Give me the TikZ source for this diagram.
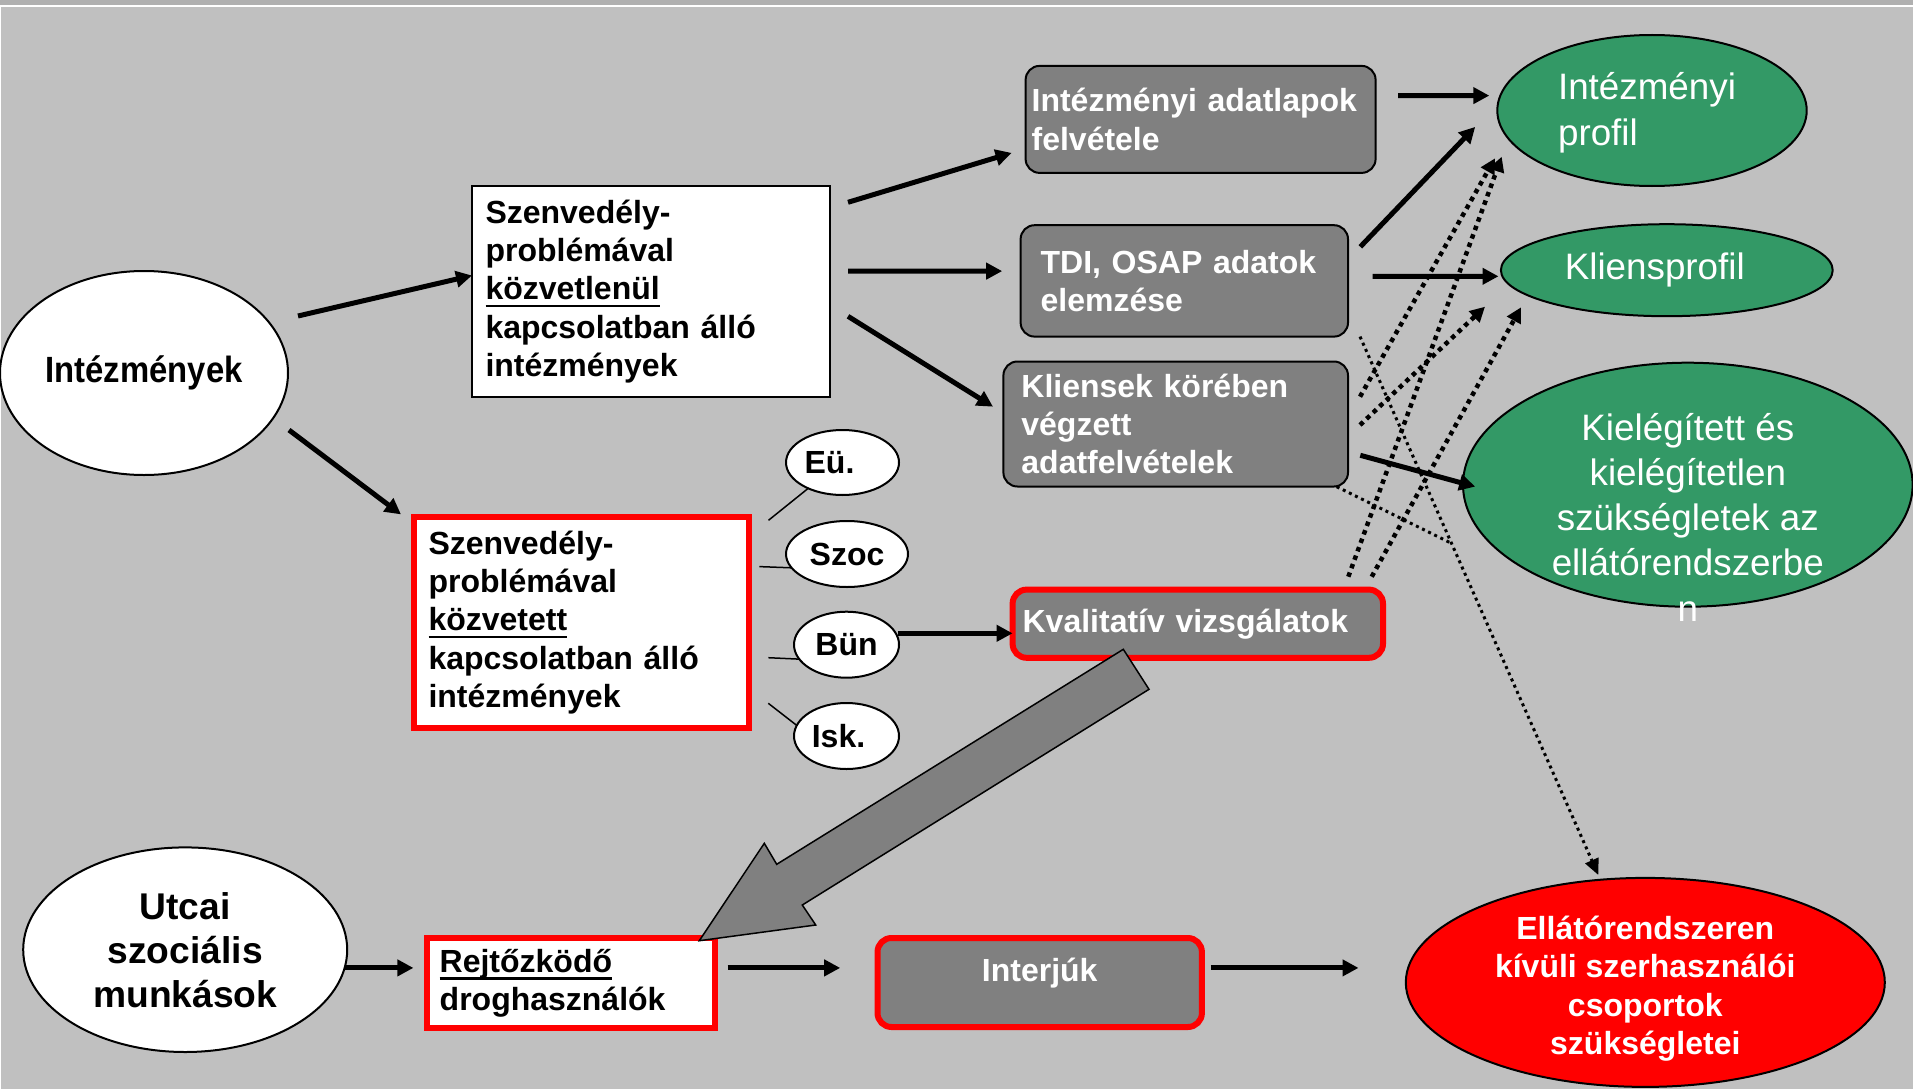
\documentclass[tikz,border=0pt]{standalone}
\usepackage{fontspec}
\setmainfont{Liberation Sans}
\newfontfamily\narrowfont{Liberation Sans}[FakeStretch=0.9]
\usetikzlibrary{arrows.meta,shapes.geometric,calc}
\definecolor{bgc}{HTML}{C0C0C0}
\definecolor{bandc}{HTML}{B0B0B0}
\definecolor{boxgray}{HTML}{808080}
\definecolor{ggreen}{HTML}{339966}
\definecolor{rred}{HTML}{FF0000}
\newcommand\myul[1]{\leavevmode\setbox0\hbox{#1}\rlap{\rule[-7.5pt]{\wd0}{2.5pt}}\box0}
\newcommand\bodyfont{\fontsize{32}{38.3}\selectfont\bfseries}
\tikzset{
  base/.style={outer sep=0pt, inner sep=0pt},
  wbox/.style={base, draw=black, line width=2pt, fill=white, align=left, font=\bodyfont},
  rbox/.style={base, draw=rred, line width=6pt, fill=white, align=left, font=\bodyfont},
  gbox/.style={base, draw=black, line width=2pt, fill=boxgray, rounded corners=14pt, text=white, align=left, font=\bodyfont},
  grbox/.style={gbox, draw=rred, line width=6pt},
  wellipse/.style={base, ellipse, draw=black, line width=2pt, fill=white, align=center},
  smallell/.style={wellipse, font=\bodyfont},
  gell/.style={base, ellipse, draw=black, line width=2pt, fill=ggreen, text=white, font=\fontsize{36.8}{45.3}\selectfont},
  arr/.style={line width=5pt, -{Triangle[length=16pt,width=16pt]}},
  dotarr/.style={line width=4.5pt, dash pattern=on 4.5pt off 4.5pt, -{Triangle[length=15pt,width=15pt]}},
  thindot/.style={line width=3pt, dash pattern=on 3pt off 3.8pt},
  thindotarr/.style={thindot, -{Triangle[length=16pt,width=14pt]}},
  tline/.style={line width=1.5pt}
}
\begin{document}
\begin{tikzpicture}[x=1pt, y=-1pt]
\useasboundingbox (0,0) rectangle (1913,1089);
\fill[bgc] (0,0) rectangle (1913,1089);
\fill[bandc] (0,0) rectangle (1913,4.7);
\fill[white] (0,5.2) rectangle (1913,6.8);
\fill[white] (0.2,6) rectangle (1.4,1089);

% left column
\node[wellipse, minimum width=288pt, minimum height=204pt, font={\fontsize{36.5}{40}\narrowfont\bfseries}] (inst) at (144,373) {Intézmények};
\node[wbox, text width=331pt, inner xsep=13.5pt, minimum height=211pt] (box1) at (651,291.5)
  {Szenvedély-\\problémával\\\myul{közvetlenül}\\kapcsolatban álló\\intézmények};
\node[rbox, text width=306pt, inner xsep=14.5pt, minimum height=211pt] (box2) at (581.5,622.5)
  {Szenvedély-\\problémával\\\myul{közvetett}\\kapcsolatban álló\\intézmények};

\node[smallell, minimum width=113pt, minimum height=65pt] (eu) at (842.5,462.5) {Eü.\hspace*{26pt}};
\node[smallell, minimum width=122pt, minimum height=66pt] (szoc) at (847,554) {Szoc};
\node[smallell, minimum width=105pt, minimum height=66pt] (bun) at (846.5,644.7) {Bün};
\node[smallell, minimum width=105pt, minimum height=66pt] (isk) at (846.5,736) {Isk.\hspace*{16pt}};

\node[wellipse, minimum width=324pt, minimum height=204.6pt, font={\fontsize{37.2}{44}\selectfont\bfseries}] (utc) at (185.2,949.7)
  {Utcai\\szociális\\munkások};
\node[rbox, text width=262pt, inner xsep=13pt, minimum height=90pt] (rejt) at (570.7,983)
  {\myul{Rejtőzködő}\\droghasználók};

% grey boxes
\node[gbox, text width=338pt, inner xsep=6pt, minimum height=107pt] (adat) at (1200.6,119.4)
  {Intézményi adatlapok\\felvétele};
\node[gbox, text width=287.4pt, inner xsep=20pt, minimum height=111.4pt] (tdi) at (1184.3,280.9)
  {TDI, OSAP adatok\\elemzése};
\node[gbox, text width=308.6pt, inner xsep=18pt, minimum height=125pt] (kli) at (1175.7,424)
  {Kliensek körében\\végzett\\adatfelvételek};
\node[grbox, text width=350.4pt, inner xsep=10pt, minimum height=68.2pt] (kval) at (1197.8,623.7)
  {Kvalitatív vizsgálatok};
\node[grbox, align=center, minimum width=324.4pt, minimum height=89pt, text height=23pt, text depth=26pt] (interj) at (1039.7,982.5)
  {Interjúk};

% right column
\node[gell, minimum width=309.4pt, minimum height=151pt] (ip) at (1652,110.5)
  {\raisebox{10.5pt}[0pt][0pt]{\begin{tabular}[t]{@{}l@{}}Intézményi\\profil\end{tabular}}\hspace*{10pt}};
\node[gell, minimum width=331.8pt, minimum height=92pt] (kp) at (1666.8,270.2)
  {Kliensprofil\hspace*{24pt}};
\node[gell, minimum width=449.6pt, minimum height=244pt] (kie) at (1687.8,484.7)
  {\raisebox{44.7pt}[0pt][0pt]{\begin{tabular}[t]{@{}c@{}}Kielégített és\\kielégítetlen\\szükségletek az\\ellátórendszerbe\\n\end{tabular}}};
\node[base, ellipse, draw=black, line width=2pt, fill=rred, text=white, font={\fontsize{32}{38.5}\selectfont\bfseries},
  minimum width=479pt, minimum height=209pt] (ell) at (1645.3,982.4)
  {\raisebox{43.2pt}[0pt][0pt]{\begin{tabular}[t]{@{}c@{}}Ellátórendszeren\\kívüli szerhasználói\\csoportok\\szükségletei\end{tabular}}};

% thin connectors to small ellipses
\draw[tline] ($(box2.north east)+(19.5,3.3)$) -- (eu.217.5);
\draw[tline] ($(box2.north east)+(10.3,49.6)$) -- (szoc.194.5);
\draw[tline] ($(box2.east)+(19.3,35.2)$) -- (bun.197);
\draw[tline] ($(box2.east)+(19.3,80.8)$) -- (isk.168);

% solid arrows
\draw[arr] ($(inst.center)+(154,-57)$) -- ($(box1.west)+(0,-16)$);
\draw[arr] ($(inst.center)+(145,57)$) -- ($(box2.north west)+(-13,-2.6)$);
\draw[arr] ($(box1.north east)+(18,16.3)$) -- ($(adat.west)+(-14,33.5)$);
\draw[arr] ($(box1.east)+(18,-20.4)$) -- ($(tdi.west)+(-18.4,-9.8)$);
\draw[arr] ($(box1.east)+(18,24.8)$) -- ($(kli.west)+(-10.4,-17.3)$);
\draw[arr] ($(adat.east)+(22.6,-23.8)$) -- ($(ip.west)+(-8,-14.9)$);
\draw[arr] ($(tdi.east)+(12.3,-34.1)$) -- ($(ip.west)+(-22.1,16.4)$);
\draw[arr] ($(tdi.east)+(24.6,-4.6)$) -- ($(kp.west)+(-2.4,6.1)$);
\draw[arr] ($(kli.east)+(12.3,31.3)$) -- ($(kie.west)+(12.2,1.9)$);
\draw[arr] ($(bun.east)+(-1,-11.4)$) -- ($(kval.west)+(0,9.6)$);
\draw[arr] ($(utc.east)+(-2,18.2)$) -- ($(rejt.west)+(-13.3,-15.1)$);
\draw[arr] ($(rejt.east)+(12.8,-15.1)$) -- ($(interj.west)+(-37.3,-14.6)$);
\draw[arr] ($(interj.east)+(9,-14.6)$) -- ($(ell.west)+(-47.3,-14.5)$);

% dotted arrows
\draw[dotarr] ($(kli.east)+(12,-27.3)$) -- ($(ip.center)+(-157,47.8)$);
\draw[dotarr] ($(kli.east)+(12,1)$) -- ($(kp.center)+(-181.8,36.5)$);
\draw[dotarr] ($(kval.north)+(150.5,-12.9)$) -- ($(ip.center)+(-150.3,46.2)$);
\draw[dotarr] ($(kval.north)+(173.9,-12.9)$) -- ($(kp.center)+(-145.8,37.1)$);
\draw[thindotarr] ($(tdi.south east)+(12,0)$) coordinate (d1s) -- ($(ell.north)+(-47,-2.9)$) coordinate (d1e);
\coordinate (join) at ($(d1s)!0.384!(d1e)$);
\draw[thindot] ($(kli.south east)+(-11.3,0.2)$) -- (join);

% big block arrow from Kvalitativ to Rejtozkodo
\coordinate (bt1) at (1123.3,649.3);
\coordinate (bt2) at (1149,689.3);
\coordinate (bs2) at (802.3,905);
\coordinate (bb2) at (815.7,925);
\coordinate (btip) at (699.3,940.7);
\coordinate (bb1) at (764.3,843.3);
\coordinate (bs1) at (776.7,864.3);
\draw[line width=1.5pt, fill=boxgray, line join=miter] (bt1) -- (bt2) -- (bs2) -- (bb2) -- (btip) -- (bb1) -- (bs1) -- cycle;
\end{tikzpicture}
\end{document}
